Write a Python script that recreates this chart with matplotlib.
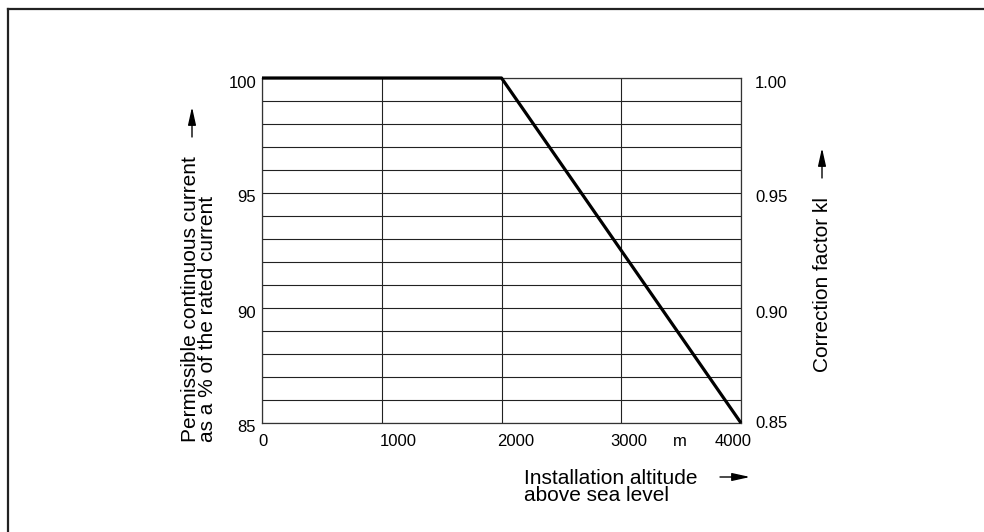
import matplotlib
matplotlib.use('Agg')
import matplotlib.pyplot as plt
from matplotlib.lines import Line2D
from matplotlib.ticker import MultipleLocator

plt.rcParams['font.family'] = ['Liberation Sans', 'DejaVu Sans']

# data (altitude in m, permissible current in %)
altitude = [0, 2000, 4000]
current = [100, 100, 85]

# tick labels
left_ticks = [85, 90, 95, 100]
right_ticks = [0.85, 0.90, 0.95, 1.00]
x_labels = ['0', '1000', '2000', '3000', '4000']
x_label_pos = [8, 1136, 2121, 3065, 3933]
unit_pos = 3491

W, H = 984, 532
fig = plt.figure(figsize=(W / 100, H / 100), dpi=100)

def px(x, y):
    # pixel coords (top-left origin) -> figure fraction
    return x / W, 1 - y / H

# outer frame (only top and left edges visible)
fig.add_artist(Line2D([8 / W, 1], [1 - 9 / H, 1 - 9 / H], color='#222222', lw=1.6))
fig.add_artist(Line2D([8 / W, 8 / W], [0, 1 - 9 / H], color='#222222', lw=1.6))

x0, y0 = px(262, 423)
x1, y1 = px(741, 78)
ax = fig.add_axes([x0, y0, x1 - x0, y1 - y0])

ax.plot(altitude, current, color='black', lw=2.3, solid_capstyle='butt', zorder=5, clip_on=False)

ax.set_xlim(0, 4000)
ax.set_ylim(85, 100)
ax.xaxis.set_major_locator(MultipleLocator(1000))
ax.yaxis.set_major_locator(MultipleLocator(1))
ax.grid(True, color='#222222', lw=0.8)
ax.set_xticklabels([])
ax.set_yticklabels([])
ax.tick_params(length=0)
for s in ax.spines.values():
    s.set_color('#333333')
    s.set_linewidth(0.9)

# left tick labels
for v in left_ticks:
    ax.annotate(str(v), (0, v), xytext=(-6, -5), textcoords='offset pixels',
                ha='right', va='center', fontsize=12)
# right tick labels
for v in right_ticks:
    yy = 85 + (v - 0.85) * 100
    dy = 0 if v == 0.85 else -5
    ax.annotate('%.2f' % v, (4000, yy), xytext=(14, dy), textcoords='offset pixels',
                ha='left', va='center', fontsize=12)
# x tick labels
for lab, xp in zip(x_labels, x_label_pos):
    ax.annotate(lab, (xp, 85), xytext=(0, -18), textcoords='offset pixels',
                ha='center', va='center', fontsize=12)
ax.annotate('m', (unit_pos, 85), xytext=(0, -18), textcoords='offset pixels',
            ha='center', va='center', fontsize=12)

# axis titles
fig.text(*px(199, 442), 'Permissible continuous current\nas a % of the rated current',
         rotation=90, ha='center', va='bottom', multialignment='left',
         fontsize=15, linespacing=0.85)
fig.text(*px(822, 285), 'Correction factor kl', rotation=90,
         ha='center', va='center', fontsize=15)
fig.text(*px(524, 469), 'Installation altitude\nabove sea level',
         ha='left', va='top', fontsize=15, linespacing=0.85)

# arrows
arw = dict(arrowstyle='-|>,head_length=0.9,head_width=0.2', color='black', lw=1.0,
           shrinkA=0, shrinkB=0)
fig.add_artist(plt.matplotlib.patches.FancyArrowPatch(px(192, 137), px(192, 107),
               transform=fig.transFigure, mutation_scale=12, **arw))
fig.add_artist(plt.matplotlib.patches.FancyArrowPatch(px(822, 178), px(822, 148),
               transform=fig.transFigure, mutation_scale=12, **arw))
fig.add_artist(plt.matplotlib.patches.FancyArrowPatch(px(720, 477), px(750, 477),
               transform=fig.transFigure, mutation_scale=12, **arw))

fig.savefig('out.png', dpi=100)
